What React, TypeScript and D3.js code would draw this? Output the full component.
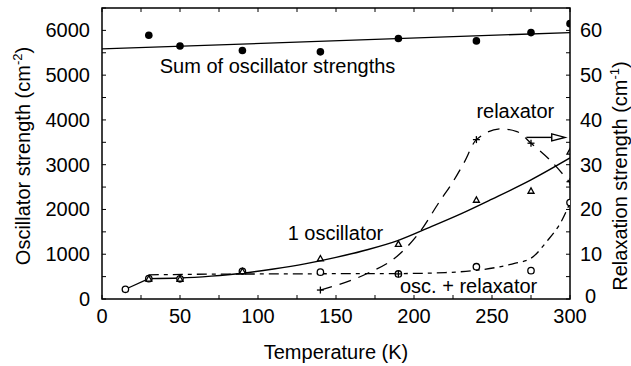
import React from "react";
import * as d3 from "d3";

const W = 631;
const H = 366;
const M = { left: 102, right: 61, top: 8, bottom: 67 };

// Temperature axis ticks
const xTickLabels = [0, 50, 100, 150, 200, 250, 300];
const yLeftTickLabels = [0, 1000, 2000, 3000, 4000, 5000, 6000];
const yRightTickLabels = [0, 10, 20, 30, 40, 50, 60];

// Sum of oscillator strengths (filled circles) and linear fit
const sumT = [30, 50, 90, 140, 190, 240, 275, 300];
const sumV = [5890, 5650, 5550, 5520, 5820, 5765, 5950, 6150];
const sumFitT = [0, 300];
const sumFitV = [5586, 5951];

// 1 oscillator model (triangles) and its curve
const oscT = [30, 50, 90, 140, 190, 240, 275, 300];
const oscV = [455, 450, 620, 905, 1230, 2215, 2416, 3290];
const oscFitT = [30, 50, 70, 90, 110, 130, 150, 170, 190, 210, 230, 250, 275, 300];
const oscFitV = [455, 468, 510, 575, 670, 785, 930, 1100, 1310, 1600, 1900, 2230, 2660, 3150];

// osc. + relaxator model, oscillator part (open circles) and dash-dot curve
const orT = [15, 30, 50, 90, 140, 190, 240, 275, 300];
const orV = [217, 455, 450, 620, 600, 560, 722, 633, 2154];
const orFitT = [30, 70, 110, 150, 190, 220, 240, 255, 265, 275, 285, 295, 300];
const orFitV = [540, 555, 560, 565, 568, 590, 640, 720, 800, 910, 1280, 1770, 2150];

// relaxator strength (plus signs, right axis) and dashed curve
const relT = [140, 190, 240, 275, 300];
const relV = [2.0, 5.6, 35.6, 34.8, 26.2];
const relFitT = [140, 170, 189, 204, 217, 223, 232, 240, 256, 266, 275, 287, 300];
const relFitV = [2.0, 5.7, 9.5, 15.1, 22.1, 25.1, 30.4, 35.6, 38, 37.4, 34.8, 31.1, 26];

const FONT = "'Liberation Sans', Arial, Helvetica, sans-serif";

export default function App() {
  const x = d3.scaleLinear().domain([0, 300]).range([M.left, W - M.right]);
  const y = d3.scaleLinear().domain([0, 6500]).range([H - M.bottom, M.top]);
  const yR = d3.scaleLinear().domain([0, 65]).range([H - M.bottom, M.top]);

  const x0 = x(0), x1 = x(300), y0 = y(0), y1 = y(6500);

  const lineL = (ts: number[], vs: number[], curve = d3.curveMonotoneX) =>
    d3.line<number>().x((_, i) => x(ts[i])).y((v) => y(v)).curve(curve)(vs) || "";
  const lineR = (ts: number[], vs: number[]) =>
    d3.line<number>().x((_, i) => x(ts[i])).y((v) => yR(v)).curve(d3.curveMonotoneX)(vs) || "";

  const xMinor = d3.range(0, 301, 25);
  const yMinor = d3.range(0, 6501, 500);
  const yRMinor = d3.range(0, 66, 5);
  const tl = 4;

  const tri = (cx: number, cy: number, s = 3) =>
    `M${cx},${cy - s}L${cx + s},${cy + s * 0.8}L${cx - s},${cy + s * 0.8}Z`;

  const ay = yR(36.1);
  const ax0 = x(272), axb = x(288.3), axt = x(296.8);

  return (
    <svg width={W} height={H} style={{ position: "absolute", left: 0, top: 0, background: "#fff" }}
      fontFamily={FONT} fontSize={20}>
      <rect x={0} y={0} width={W} height={H} fill="#fff" />
      <defs>
        <clipPath id="plot">
          <rect x={x0} y={y1} width={x1 - x0} height={y0 - y1} />
        </clipPath>
      </defs>

      {/* ticks */}
      {xMinor.map((t) => (
        <g key={"xt" + t} stroke="#000" strokeWidth={1}>
          <line x1={x(t)} x2={x(t)} y1={y0} y2={y0 - tl} />
          <line x1={x(t)} x2={x(t)} y1={y1} y2={y1 + tl} />
        </g>
      ))}
      {yMinor.map((v) => (
        <line key={"yl" + v} x1={x0} x2={x0 + tl} y1={y(v)} y2={y(v)} stroke="#000" />
      ))}
      {yRMinor.map((v) => (
        <line key={"yr" + v} x1={x1} x2={x1 - tl} y1={yR(v)} y2={yR(v)} stroke="#000" />
      ))}

      {/* frame */}
      <rect x={x0} y={y1} width={x1 - x0} height={y0 - y1} fill="none" stroke="#000" strokeWidth={1.5} />

      {/* tick labels */}
      {xTickLabels.map((t) => (
        <text key={"xl" + t} x={x(t)} y={y0 + 24} textAnchor="middle">{t}</text>
      ))}
      {yLeftTickLabels.map((v) => (
        <text key={"yll" + v} x={x0 - 12} y={y(v) + 7} textAnchor="end">{v}</text>
      ))}
      {yRightTickLabels.map((v) => (
        <text key={"yrl" + v} x={x1 + (v === 0 ? 15 : 10)} y={yR(v) + (v === 0 ? 4 : 7)} textAnchor="start">{v}</text>
      ))}

      {/* axis titles */}
      <text x={(x0 + x1) / 2} y={H - 7} textAnchor="middle">Temperature (K)</text>
      <text transform={`translate(30,${156}) rotate(-90)`} textAnchor="middle">
        Oscillator strength (cm<tspan dy={-8} fontSize={13}>-2</tspan><tspan dy={8}>)</tspan>
      </text>
      <text transform={`translate(627,${176}) rotate(-90)`} textAnchor="middle">
        Relaxation strength (cm<tspan dy={-8} fontSize={13}>-1</tspan><tspan dy={8}>)</tspan>
      </text>

      <g clipPath="url(#plot)" fill="none" stroke="#000">
        {/* sum fit */}
        <path d={lineL(sumFitT, sumFitV, d3.curveLinear)} strokeWidth={1.3} />
        {/* 1 oscillator */}
        <path d={lineL(oscFitT, oscFitV)} strokeWidth={1.4} />
        {/* osc + relaxator */}
        <path d={lineL(orT.slice(0, 2), orV.slice(0, 2), d3.curveLinear)} strokeWidth={1.2} />
        <path d={lineL(orFitT, orFitV)} strokeWidth={1.3} strokeDasharray="10,5,4,5" />
        {/* relaxator */}
        <path d={lineR(relFitT, relFitV)} strokeWidth={1.3} strokeDasharray="12,8" />

        {/* markers */}
        {sumT.map((t, i) => (
          <circle key={"s" + i} cx={x(t)} cy={y(sumV[i])} r={3.8} fill="#000" stroke="none" />
        ))}
        {orT.map((t, i) => (
          <circle key={"o" + i} cx={x(t)} cy={y(orV[i])} r={3.2} fill="#fff" strokeWidth={1.3} />
        ))}
        {oscT.map((t, i) => (
          <path key={"t" + i} d={tri(x(t), y(oscV[i]))} strokeWidth={1.3} />
        ))}
        {relT.map((t, i) => (
          <g key={"p" + i} strokeWidth={1.3}>
            <line x1={x(t) - 3.5} x2={x(t) + 3.5} y1={yR(relV[i])} y2={yR(relV[i])} />
            <line x1={x(t)} x2={x(t)} y1={yR(relV[i]) - 3.5} y2={yR(relV[i]) + 3.5} />
          </g>
        ))}
      </g>

      {/* arrow */}
      <line x1={ax0} x2={axb} y1={ay} y2={ay} stroke="#000" strokeWidth={1.4} />
      <path d={`M${axb},${ay - 3.5}L${axt},${ay}L${axb},${ay + 3.5}Z`} fill="#fff" stroke="#000" strokeWidth={1.4} />

      {/* annotations */}
      <text x={x(37)} y={y(5040)}>Sum of oscillator strengths</text>
      <text x={x(240)} y={yR(40.5)}>relaxator</text>
      <text x={x(119)} y={y(1320)}>1 oscillator</text>
      <text x={x(191)} y={y(130)}>osc. + relaxator</text>
    </svg>
  );
}
